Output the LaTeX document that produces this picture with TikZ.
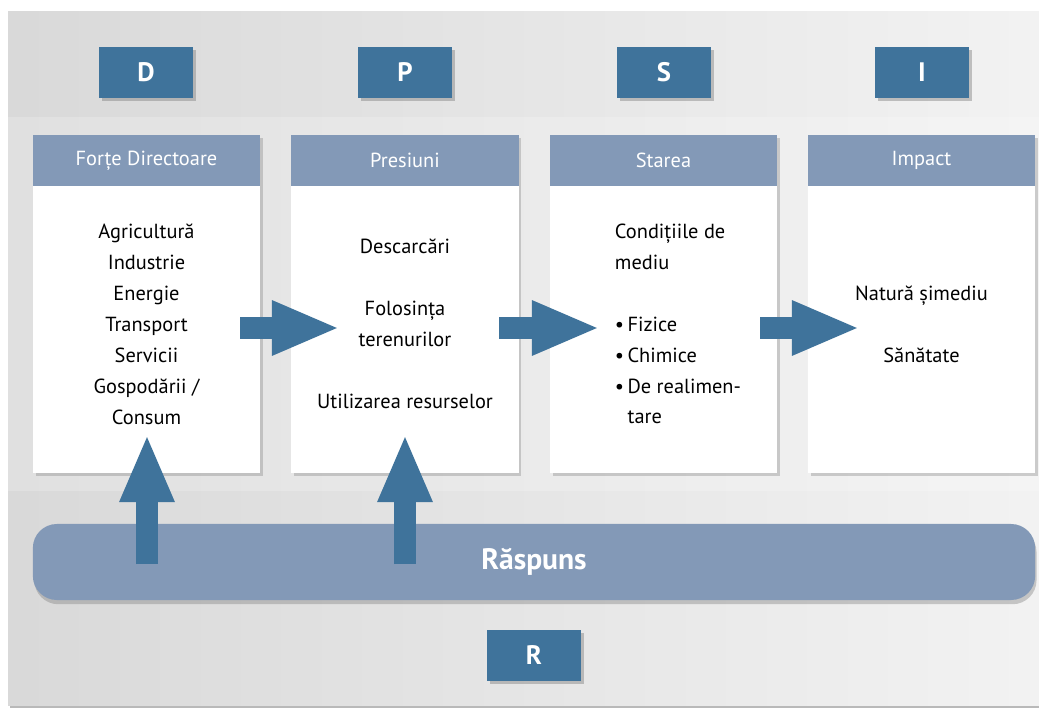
\documentclass[tikz,border=0pt]{standalone}
\usepackage{fontspec}
\setmainfont{PT Sans}
\usetikzlibrary{arrows.meta,shadows}

\definecolor{dpsirblue}{HTML}{3F739B}
\definecolor{headblue}{HTML}{8399B7}
\definecolor{panelgray}{HTML}{DEDFE2}

\tikzset{
  letterbox/.style={fill=dpsirblue, text=white, inner sep=0pt,
    minimum width=2.35cm, minimum height=1.275cm,
    font=\fontsize{19}{19}\selectfont\bfseries,
    drop shadow={shadow xshift=2pt, shadow yshift=-2pt, opacity=0.45}},
  colbox/.style={fill=white, inner sep=0pt,
    minimum width=5.675cm, minimum height=8.45cm,
    drop shadow={shadow xshift=2pt, shadow yshift=-2pt, opacity=0.35}},
  headbox/.style={fill=headblue, text=white, inner sep=0pt, anchor=north,
    minimum width=5.675cm, minimum height=1.275cm,
    font=\fontsize{14.5}{14.5}\selectfont},
  colitems/.style={align=center, font=\fontsize{14.5}{22}\selectfont},
  fatarrow/.style={draw=dpsirblue, line width=0.55cm,
    -{Triangle[width=1.25cm, length=1.7cm]}}
}

\begin{document}
\begin{tikzpicture}[x=0.025cm, y=-0.025cm]
\useasboundingbox (0,0) rectangle (1039,715);

% background panel
\fill[gray!55] (10,14) rectangle (1039,708);
\shade[left color=gray!30, right color=gray!10] (8,12) rectangle (1039,705);
\shade[top color=white, bottom color=white, opacity=0.2] (8,118) rectangle (1039,490);

% letters D P S I
\node[letterbox] (D) at (146,72.5) {D};
\node[letterbox] (P) at (405,72.5) {P};
\node[letterbox] (S) at (664,72.5) {S};
\node[letterbox] (I) at (922,72.5) {I};

% columns
\node[colbox] (forte) at (146.5,304) {};
\node[colbox] (presiuni) at (405,304) {};
\node[colbox] (starea) at (663.5,304) {};
\node[colbox] (impact) at (921.5,304) {};
\node[headbox] (forteh) at (forte.north) {Forțe Directoare};
\node[headbox] (presiunih) at (presiuni.north) {Presiuni};
\node[headbox] (stareah) at (starea.north) {Starea};
\node[headbox] (impacth) at (impact.north) {Impact};

\node[colitems] (forteitems) at (146.5,324) {Agricultură\\Industrie\\Energie\\Transport\\Servicii\\Gospodării /\\Consum};
\node[colitems] (presiuniitems) at (405,324) {Descarcări\\[22pt]Folosința\\terenurilor\\[22pt]Utilizarea resurselor};
\node[colitems, align=left, anchor=west] (stareaitems) at (610,324) {Condițiile de\\mediu\\[22pt]\textbullet\,Fizice\\\textbullet\,Chimice\\\textbullet\,De realimen-\\\phantom{\textbullet\,}tare};
\node[colitems] (impactitems) at (921.5,324.5) {Natură șimediu\\[22pt]Sănătate};

% response bar
\node[fill=headblue, rounded corners=0.6cm, inner sep=0pt,
  minimum width=25.05cm, minimum height=1.9cm,
  drop shadow={shadow xshift=1pt, shadow yshift=-3pt, opacity=0.4},
  text=white, font=\fontsize{21}{21}\selectfont\bfseries] (raspuns) at (534,562) {Răspuns};
\node[letterbox] (R) at (534,655.5) {R};

% arrows
\coordinate (dp1) at (240,328);
\coordinate (dp2) at (340,328);
\coordinate (ps1) at (499,328);
\coordinate (ps2) at (600,328);
\coordinate (si1) at (760,328);
\coordinate (si2) at (860,328);
\coordinate (rd1) at (147,564);
\coordinate (rd2) at (147,434);
\coordinate (rp1) at (405,564);
\coordinate (rp2) at (405,434);
\draw[fatarrow] (dp1) -- (dp2);
\draw[fatarrow] (ps1) -- (ps2);
\draw[fatarrow] (si1) -- (si2);
\draw[fatarrow] (rd1) -- (rd2);
\draw[fatarrow] (rp1) -- (rp2);
\end{tikzpicture}
\end{document}
